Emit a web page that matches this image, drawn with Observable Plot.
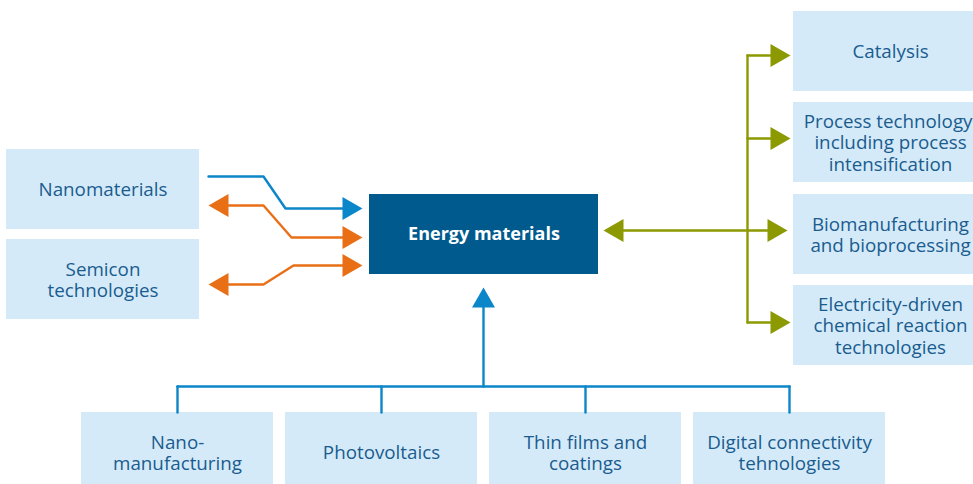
<!DOCTYPE html>
<html>
<head>
<meta charset="utf-8">
<script src="https://cdn.jsdelivr.net/npm/d3@7"></script>
<script src="https://cdn.jsdelivr.net/npm/@observablehq/plot@0.6"></script>
<style>
  html, body { margin: 0; padding: 0; background: #ffffff; }
  #chart { width: 973px; height: 484px; overflow: hidden; }
  #chart svg { display: block; }
</style>
</head>
<body>
<div id="chart"></div>
<script>
// ---- content ----
const centerLabel = "Energy materials";
const leftLabels = ["Nanomaterials", "Semicon\ntechnologies"];
const rightLabels = [
  "Catalysis",
  "Process technology,\nincluding process\nintensification",
  "Biomanufacturing\nand bioprocessing",
  "Electricity-driven\nchemical reaction\ntechnologies"
];
const bottomLabels = [
  "Nano-\nmanufacturing",
  "Photovoltaics",
  "Thin films and\ncoatings",
  "Digital connectivity\ntehnologies"
];

// ---- layout (pixel space of the diagram) ----
const W = 973, H = 484;
const boxH = 80;
const leftX = [6, 199], leftTop = [149, 239];
const rightX = [793, 987], rightTop = [11, 102, 194, 285];
const bottomLeft = [81, 285, 489, 693], bottomW = 192, bottomTop = 412;
const centerBox = {x1: 369, x2: 598, y1: 194, y2: 274};

const colors = {
  light: "#d4eaf9",
  dark: "#005a8d",
  text: "#1a5c8e",
  blue: "#0b86c8",
  orange: "#e96f17",
  green: "#8c9900"
};

const boxes = [
  ...leftLabels.map((label, i) => ({label, x1: leftX[0], x2: leftX[1], y1: leftTop[i], y2: leftTop[i] + boxH})),
  ...rightLabels.map((label, i) => ({label, x1: rightX[0], x2: rightX[1], y1: rightTop[i], y2: rightTop[i] + boxH})),
  ...bottomLabels.map((label, i) => ({label, x1: bottomLeft[i], x2: bottomLeft[i] + bottomW, y1: bottomTop, y2: bottomTop + boxH}))
];
const boxCenters = boxes.map(b => ({label: b.label, x: (b.x1 + b.x2) / 2, y: (b.y1 + b.y2) / 2}));

// connector polylines
const HL = 20, HW = 11.5; // arrowhead length / half-width
const lines = [];
const heads = [];
let id = 0;
function path(points, color) { id++; points.forEach(([x, y]) => lines.push({id, x, y, color})); }
function head(tx, ty, dir, color) {
  id++;
  let pts;
  if (dir === "right") pts = [[tx - HL, ty - HW], [tx, ty], [tx - HL, ty + HW]];
  else if (dir === "left") pts = [[tx + HL, ty - HW], [tx, ty], [tx + HL, ty + HW]];
  else pts = [[tx - HW, ty + HL], [tx, ty], [tx + HW, ty + HL]];
  pts.forEach(([x, y]) => heads.push({id, x, y, color}));
}

const tipIn = centerBox.x1 - 7;          // arrow tips at the center box (left side)
const leftOut = leftX[1] + 9;            // arrow tips pointing back to left boxes
// Nanomaterials -> Energy materials (blue)
path([[leftOut, 176], [263, 176], [285, 208], [tipIn - HL, 208]], colors.blue);
head(tipIn, 208, "right", colors.blue);
// Nanomaterials <-> Energy materials (orange)
head(leftOut, 205, "left", colors.orange);
path([[leftOut + HL, 205], [263, 205], [291, 237], [tipIn - HL, 237]], colors.orange);
head(tipIn, 237, "right", colors.orange);
// Semicon <-> Energy materials (orange)
head(leftOut, 284, "left", colors.orange);
path([[leftOut + HL, 284], [263, 284], [293, 265], [tipIn - HL, 265]], colors.orange);
head(tipIn, 265, "right", colors.orange);

// Energy materials <-> right boxes (green)
const gy = 230, trunkX = 747, greenLeftTip = centerBox.x2 + 5;
const rightArrowY = [55, 138, 230, 322];
head(greenLeftTip, gy, "left", colors.green);
path([[greenLeftTip + HL, gy], [rightX[0] - 6 - HL, gy]], colors.green);
path([[trunkX, rightArrowY[0]], [trunkX, rightArrowY[3]]], colors.green);
rightArrowY.forEach((y, i) => {
  const tip = i === 2 ? rightX[0] - 6 : rightX[0] - 3;
  if (i !== 2) path([[trunkX, y], [tip - HL, y]], colors.green);
  head(tip, y, "right", colors.green);
});

// bottom boxes -> Energy materials (blue)
const busY = 386, upX = (centerBox.x1 + centerBox.x2) / 2 - 0.5, upTip = centerBox.y2 + 13;
const bottomCenters = bottomLeft.map(x => x + bottomW / 2);
path([[bottomCenters[0], busY], [bottomCenters[3], busY]], colors.blue);
bottomCenters.forEach(x => path([[x, bottomTop], [x, busY]], colors.blue));
path([[upX, busY], [upX, upTip + HL]], colors.blue);
head(upX, upTip, "up", colors.blue);

const chart = Plot.plot({
  width: W,
  height: H,
  margin: 0,
  x: {domain: [0, W], range: [0, W], axis: null},
  y: {domain: [0, H], range: [0, H], axis: null},
  style: {background: "#ffffff", fontFamily: "'Open Sans', sans-serif", overflow: "hidden"},
  marks: [
    Plot.rect(boxes, {x1: "x1", x2: "x2", y1: "y1", y2: "y2", fill: colors.light}),
    Plot.rect([centerBox], {x1: "x1", x2: "x2", y1: "y1", y2: "y2", fill: colors.dark}),
    Plot.line(lines, {x: "x", y: "y", z: "id", stroke: d => d.color, strokeWidth: 2.4, strokeLinejoin: "miter", curve: "linear"}),
    Plot.line(heads, {x: "x", y: "y", z: "id", fill: d => d.color, stroke: "none", curve: "linear-closed"}),
    Plot.text(boxCenters, {x: "x", y: "y", text: "label", fill: colors.text, fontSize: 18.8, lineHeight: 1.14, textAnchor: "middle", lineAnchor: "middle"}),
    Plot.text([centerLabel], {x: (centerBox.x1 + centerBox.x2) / 2, y: (centerBox.y1 + centerBox.y2) / 2, text: d => d, fill: "#ffffff", fontSize: 18, fontWeight: "bold", textAnchor: "middle", lineAnchor: "middle"})
  ],
  color: {type: "identity"}
});
document.getElementById("chart").append(chart);
</script>
</body>
</html>
